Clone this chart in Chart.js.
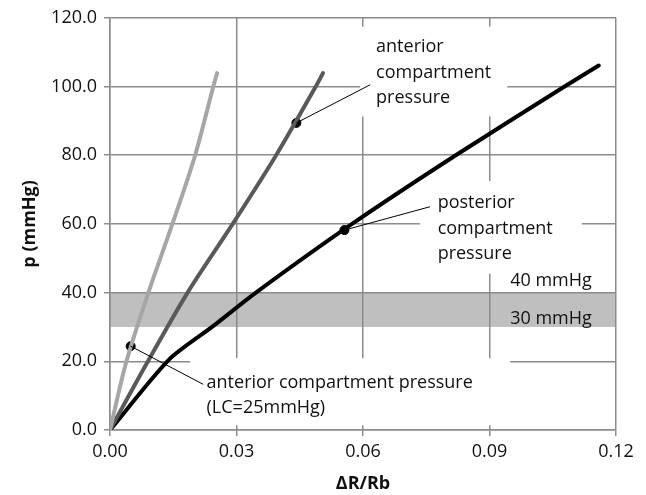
<!DOCTYPE html>
<html>
<head>
<meta charset="utf-8">
<script src="https://cdn.jsdelivr.net/npm/chart.js@4/dist/chart.umd.min.js"></script>
<style>
  html, body { margin: 0; padding: 0; background: #fff; }
  #wrap { width: 646px; height: 495px; }
</style>
</head>
<body>
<div id="wrap"><canvas id="chart" width="646" height="495"></canvas></div>
<script>
// anterior compartment pressure, LC = 25 mmHg (light gray)
const anteriorLcX = [0, 0.0039, 0.0091, 0.0148, 0.0202, 0.0245, 0.0254];
const anteriorLcP = [0, 20.0, 40.0, 60.0, 80.0, 100.0, 103.9];

// anterior compartment pressure (dark gray)
const anteriorX = [0, 0.0090, 0.0184, 0.0291, 0.0394, 0.0488, 0.0505];
const anteriorP = [0, 20.0, 40.0, 60.0, 80.0, 100.0, 103.9];

// posterior compartment pressure (black)
const posteriorX = [0, 0.0140, 0.0242, 0.0346, 0.0574, 0.0820, 0.1078, 0.1159];
const posteriorP = [0, 20.5, 30.0, 40.0, 60.0, 80.0, 100.0, 106.1];

// marked points on the curves
const markerX = [0.0442, 0.0556, 0.0049];
const markerP = [89.4, 58.2, 24.4];

// threshold band (mmHg)
const bandRange = [30, 40];

const xTicks = [0, 0.03, 0.06, 0.09, 0.12];
const yTicks = [0, 20, 40, 60, 80, 100, 120];

const gridColor = '#8c8c8c';
const fontFamily = '"Open Sans", "DejaVu Sans", sans-serif';

// text boxes: text position in data units, leader from marker to 'to'
const notes = [
  { lines: ['anterior', 'compartment', 'pressure'], x: 0.0631, p: 111.4,
    box: [0.0593, 117.4, 0.0942, 91.3], marker: 0, to: [0.0617, 100.5] },
  { lines: ['posterior', 'compartment', 'pressure'], x: 0.0777, p: 66.0,
    box: [0.0735, 72.5, 0.1119, 45.5], marker: 1, to: [0.0759, 65.0] },
  { lines: ['anterior compartment pressure', '(LC=25mmHg)'], x: 0.0229, p: 13.7,
    box: [0.0190, 20.9, 0.0949, 1.4], marker: 2, to: [0.0221, 13.3] },
  { lines: ['40 mmHg'], x: 0.0949, p: 43.3 },
  { lines: ['30 mmHg'], x: 0.0949, p: 32.4 }
];

function toPoints(xs, ps) {
  return xs.map((v, i) => ({ x: v, y: ps[i] }));
}

const overlay = {
  id: 'overlay',
  beforeDraw(chart) {
    const { ctx, chartArea, scales: { x, y } } = chart;
    const top = y.getPixelForValue(bandRange[1]);
    const bot = y.getPixelForValue(bandRange[0]);
    ctx.save();
    ctx.fillStyle = '#bfbfbf';
    ctx.fillRect(chartArea.left, top, chartArea.right - chartArea.left, bot - top);
    ctx.restore();
  },
  beforeDatasetsDraw(chart) {
    const { ctx, scales: { x, y } } = chart;
    ctx.save();
    ctx.fillStyle = '#ffffff';
    notes.forEach(n => {
      if (!n.box) return;
      const x0 = x.getPixelForValue(n.box[0]), y0 = y.getPixelForValue(n.box[1]);
      const x1 = x.getPixelForValue(n.box[2]), y1 = y.getPixelForValue(n.box[3]);
      ctx.fillRect(x0, y0, x1 - x0, y1 - y0);
    });
    ctx.restore();
  },
  afterDatasetsDraw(chart) {
    const { ctx, scales: { x, y } } = chart;
    ctx.save();
    ctx.strokeStyle = '#000';
    ctx.lineWidth = 1;
    notes.forEach(n => {
      if (n.marker === undefined) return;
      ctx.beginPath();
      ctx.moveTo(x.getPixelForValue(markerX[n.marker]), y.getPixelForValue(markerP[n.marker]));
      ctx.lineTo(x.getPixelForValue(n.to[0]), y.getPixelForValue(n.to[1]));
      ctx.stroke();
    });
    ctx.fillStyle = '#111';
    ctx.font = '18px ' + fontFamily;
    ctx.textBaseline = 'middle';
    ctx.textAlign = 'left';
    notes.forEach(n => {
      const tx = x.getPixelForValue(n.x);
      const ty = y.getPixelForValue(n.p);
      n.lines.forEach((line, i) => ctx.fillText(line, tx, ty + i * 25.4));
    });
    ctx.restore();
  }
};

const curve = (data, color, width, tension) => ({
  data: data,
  showLine: true,
  borderColor: color,
  borderWidth: width,
  borderCapStyle: 'round',
  tension: tension,
  pointRadius: 0,
  fill: false
});

const ctx = document.getElementById('chart');

const chart = new Chart(ctx, {
  type: 'scatter',
  data: {
    datasets: [
      curve(toPoints(anteriorLcX, anteriorLcP), '#a6a6a6', 4, 0.3),
      curve(toPoints(anteriorX, anteriorP), '#595959', 4, 0.3),
      curve(toPoints(posteriorX, posteriorP), '#000000', 4, 0.25),
      {
        data: toPoints(markerX, markerP),
        showLine: false,
        pointRadius: 4.5,
        pointBackgroundColor: '#000',
        pointBorderColor: '#000',
        pointBorderWidth: 1
      }
    ]
  },
  options: {
    responsive: false,
    animation: false,
    devicePixelRatio: 1,
    layout: { padding: { top: 16, right: 30, bottom: 0, left: 0 } },
    plugins: {
      legend: { display: false },
      tooltip: { enabled: false }
    },
    scales: {
      x: {
        type: 'linear',
        min: 0,
        max: 0.12,
        afterBuildTicks: s => { s.ticks = xTicks.map(v => ({ value: v })); },
        afterFit: s => { s.height = 65; },
        ticks: {
          callback: v => v.toFixed(2),
          color: '#111',
          font: { family: fontFamily, size: 18 },
          padding: 5,
          maxRotation: 0
        },
        grid: { color: gridColor, lineWidth: 1.5, tickLength: 6 },
        border: { color: gridColor, width: 1.5 },
        title: {
          display: true,
          text: 'ΔR/Rb',
          color: '#111',
          font: { family: fontFamily, size: 18, weight: 'bold' },
          padding: { top: 0, bottom: 0 }
        }
      },
      y: {
        type: 'linear',
        min: 0,
        max: 120,
        afterBuildTicks: s => { s.ticks = yTicks.map(v => ({ value: v })); },
        afterFit: s => { s.width = 110; },
        ticks: {
          callback: v => v.toFixed(1),
          color: '#111',
          font: { family: fontFamily, size: 18 },
          padding: 7
        },
        grid: { color: gridColor, lineWidth: 1.5, tickLength: 6 },
        border: { color: gridColor, width: 1.5 },
        title: {
          display: true,
          text: 'p (mmHg)',
          color: '#111',
          font: { family: fontFamily, size: 18, weight: 'bold' },
          padding: { top: 19, bottom: 0 }
        }
      }
    }
  },
  plugins: [overlay]
});
</script>
</body>
</html>
